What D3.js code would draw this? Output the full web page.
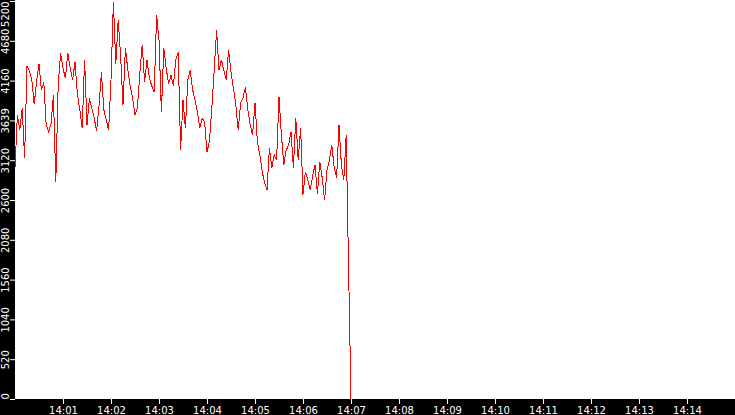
<!DOCTYPE html>
<html>
<head>
<meta charset="utf-8">
<script src="https://cdn.jsdelivr.net/npm/d3@7"></script>
<style>
  body { margin: 0; background: #000; }
  svg { display: block; }
</style>
</head>
<body>
<script>
// readings, one every 3 seconds starting 14:00:00
var stepSeconds = 3;
var values = [
  3020, 3710, 3510, 3800, 3150, 4350, 4290, 4170, 3850, 4150,
  4380, 4040, 4140, 3580, 3490, 3590, 3970, 2840, 4100, 4520,
  4320, 4190, 4520, 4320, 4170, 4400, 3980, 3780, 3540, 4430,
  3580, 3930, 3800, 3670, 3500, 3830, 4270, 3780, 3650, 3510,
  4170, 5190, 4380, 4950, 4490, 3840, 4590, 4300, 4090, 3930,
  3710, 3800, 4250, 4630, 4140, 4430, 4190, 4090, 4010, 5020,
  4690, 3750, 4590, 4320, 4120, 4230, 4090, 4430, 4530, 3250,
  3910, 3540, 4170, 4300, 4040, 3910, 3750, 3540, 3670, 3620,
  3230, 3360, 3800, 4300, 4820, 4300, 4430, 4300, 4170, 4560,
  4270, 4060, 3850, 3510, 3870, 3930, 4080, 3780, 3580, 3450,
  3870, 3360, 3190, 2970, 2820, 2730, 3280, 3020, 3190, 3120,
  3950, 3450, 3060, 3250, 3320, 3490, 3020, 3670, 3120, 3540,
  2670, 2970, 2860, 2730, 2910, 3060, 2680, 3100, 2890, 2600,
  2990, 3120, 3320, 3020, 2890, 3580, 3060, 2860, 3450, 1700,
  0
];

var yTicks = [0, 520, 1040, 1560, 2080, 2600, 3120, 3640, 4160, 4680, 5200];
var yTickLabels = ["0", "520", "1040", "1560", "2080", "2600", "3120", "3639", "4160", "4680", "5200"];
var xTickMinutes = [1, 2, 3, 4, 5, 6, 7, 8, 9, 10, 11, 12, 13, 14];

var svgWidth = 735;
var svgHeight = 415;
var margin = { top: 1, right: 0, bottom: 16, left: 15 };
var plotBottom = svgHeight - margin.bottom;

var t0 = new Date(2020, 0, 1, 14, 0, 0);
function atMinute(m) { return new Date(t0.getTime() + m * 60000); }

var data = values.map(function (v, i) {
  return { t: new Date(t0.getTime() + i * stepSeconds * 1000), v: v };
});

var svg = d3.select("body")
  .append("svg")
  .attr("width", svgWidth)
  .attr("height", svgHeight);

svg.append("rect")
  .attr("width", svgWidth)
  .attr("height", svgHeight)
  .attr("fill", "#000");

svg.append("rect")
  .attr("x", margin.left)
  .attr("y", 0)
  .attr("width", svgWidth - margin.left)
  .attr("height", plotBottom)
  .attr("fill", "#fff");

var x = d3.scaleTime()
  .domain([atMinute(0), atMinute(15)])
  .range([margin.left, svgWidth]);

var y = d3.scaleLinear()
  .domain([0, 5200])
  .range([plotBottom, margin.top]);

// x axis
var xAxis = d3.axisBottom(x)
  .tickValues(xTickMinutes.map(atMinute))
  .tickFormat(d3.timeFormat("%H:%M"))
  .tickSize(5)
  .tickPadding(3);

var gx = svg.append("g")
  .attr("transform", `translate(0, ${plotBottom})`)
  .call(xAxis);
gx.select(".domain").remove();
gx.selectAll("line").attr("stroke", "#fff");
gx.selectAll("text")
  .attr("fill", "#fff")
  .attr("font-family", "DejaVu Sans")
  .attr("font-size", 10);

// y axis, labels turned sideways
var yAxis = d3.axisLeft(y)
  .tickValues(yTicks)
  .tickFormat(function (d, i) { return yTickLabels[i]; })
  .tickSize(5);

var gy = svg.append("g")
  .attr("transform", `translate(${margin.left}, 0)`)
  .call(yAxis);
gy.select(".domain").remove();
gy.selectAll("line").attr("stroke", "#fff");
gy.selectAll("text")
  .attr("transform", "rotate(-90)")
  .attr("x", 0)
  .attr("y", -6)
  .attr("dy", 0)
  .attr("fill", "#fff")
  .attr("font-family", "DejaVu Sans")
  .attr("font-size", 10)
  .attr("text-anchor", function (d, i) {
    if (i === 0) return "start";
    if (i === yTicks.length - 1) return "end";
    return "middle";
  });

// the series
var line = d3.line()
  .x(function (d) { return x(d.t); })
  .y(function (d) { return y(d.v); });

svg.append("path")
  .datum(data)
  .attr("d", line)
  .attr("fill", "none")
  .attr("stroke", "#ff0000")
  .attr("stroke-width", 1)
  .attr("shape-rendering", "crispEdges");
</script>
</body>
</html>
